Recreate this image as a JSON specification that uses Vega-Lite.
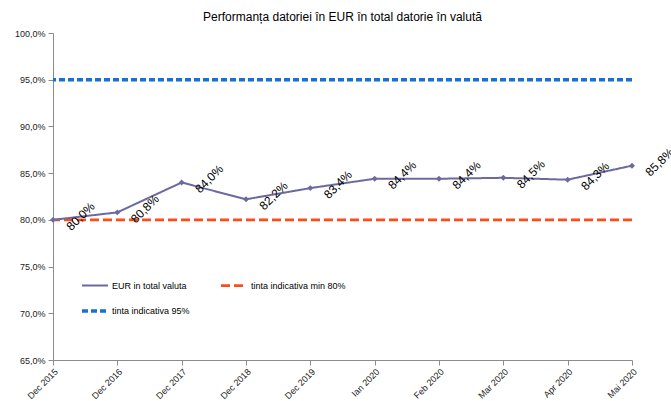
{
  "$schema": "https://vega.github.io/schema/vega-lite/v6.json",
  "width": 579,
  "height": 327,
  "autosize": {"type": "none"},
  "padding": {"left": 53, "top": 33, "right": 39, "bottom": 41},
  "background": "white",
  "title": {
    "text": "Performanța datoriei în EUR în total datorie în valută",
    "font": "Liberation Sans",
    "fontSize": 12,
    "fontWeight": "normal",
    "color": "#000000",
    "anchor": "middle",
    "offset": 5
  },
  "datasets": {
    "eur": [
      {"luna": "Dec 2015", "valoare": 0.800, "serie": "EUR in total valuta"},
      {"luna": "Dec 2016", "valoare": 0.808, "serie": "EUR in total valuta"},
      {"luna": "Dec 2017", "valoare": 0.840, "serie": "EUR in total valuta"},
      {"luna": "Dec 2018", "valoare": 0.822, "serie": "EUR in total valuta"},
      {"luna": "Dec 2019", "valoare": 0.834, "serie": "EUR in total valuta"},
      {"luna": "Ian 2020", "valoare": 0.844, "serie": "EUR in total valuta"},
      {"luna": "Feb 2020", "valoare": 0.844, "serie": "EUR in total valuta"},
      {"luna": "Mar 2020", "valoare": 0.845, "serie": "EUR in total valuta"},
      {"luna": "Apr 2020", "valoare": 0.843, "serie": "EUR in total valuta"},
      {"luna": "Mai 2020", "valoare": 0.858, "serie": "EUR in total valuta"}
    ],
    "tinte": [
      {"serie": "tinta indicativa min 80%", "valoare": 0.80},
      {"serie": "tinta indicativa  95%", "valoare": 0.95}
    ]
  },
  "layer": [
    {
      "data": {"name": "tinte"},
      "mark": {"type": "rule"},
      "encoding": {
        "y": {"field": "valoare", "type": "quantitative",
          "scale": {"domain": [0.65, 1.0], "zero": false, "nice": false},
          "axis": {"values": [0.65, 0.70, 0.75, 0.80, 0.85, 0.90, 0.95, 1.0], "format": ".1%", "labelPadding": 3}},
        "color": {"field": "serie", "type": "nominal",
          "sort": ["EUR in total valuta", "tinta indicativa min 80%", "tinta indicativa  95%"],
          "scale": {"domain": ["EUR in total valuta", "tinta indicativa min 80%", "tinta indicativa  95%"], "range": ["#6a6aa0", "#ff4a1a", "#1a6fd6"]},
          "legend": {"orient": "none", "direction": "horizontal", "legendX": 27, "legendY": 238, "columns": 2, "title": null, "symbolType": "stroke", "symbolSize": 676, "labelOffset": 2, "columnPadding": 22, "rowPadding": 5, "labelFontSize": 9, "labelFont": "Liberation Sans", "labelColor": "#000000", "symbolStrokeWidth": 2.5,
            "values": ["EUR in total valuta", "tinta indicativa min 80%", "tinta indicativa  95%"]}},
        "strokeDash": {"field": "serie", "type": "nominal",
          "sort": ["EUR in total valuta", "tinta indicativa min 80%", "tinta indicativa  95%"],
          "scale": {"domain": ["EUR in total valuta", "tinta indicativa min 80%", "tinta indicativa  95%"], "range": [[1, 0], [9, 4], [6, 3]]}},
        "strokeWidth": {"field": "serie", "type": "nominal",
          "sort": ["EUR in total valuta", "tinta indicativa min 80%", "tinta indicativa  95%"],
          "scale": {"domain": ["EUR in total valuta", "tinta indicativa min 80%", "tinta indicativa  95%"], "range": [2, 3.5, 2]}, "legend": null}
      }
    },
    {
      "data": {"name": "eur"},
      "mark": {"type": "line", "point": {"shape": "diamond", "filled": true, "size": 35, "color": "#6a6aa0"}},
      "encoding": {
        "x": {"field": "luna", "type": "ordinal", "sort": null,
          "scale": {"type": "point", "padding": 0},
          "axis": {"labelAngle": 315, "labelFontSize": 9, "labelPadding": 2}},
        "y": {"field": "valoare", "type": "quantitative"},
        "color": {"field": "serie", "type": "nominal", "sort": ["EUR in total valuta", "tinta indicativa min 80%", "tinta indicativa  95%"]},
        "strokeDash": {"field": "serie", "type": "nominal", "sort": ["EUR in total valuta", "tinta indicativa min 80%", "tinta indicativa  95%"]},
        "strokeWidth": {"field": "serie", "type": "nominal", "sort": ["EUR in total valuta", "tinta indicativa min 80%", "tinta indicativa  95%"], "legend": null}
      }
    },
    {
      "data": {"name": "eur"},
      "mark": {"type": "text", "angle": 315, "dx": 22, "dy": 17, "align": "center", "baseline": "middle", "font": "Liberation Sans", "fontSize": 12, "color": "#000000"},
      "encoding": {
        "x": {"field": "luna", "type": "ordinal", "sort": null},
        "y": {"field": "valoare", "type": "quantitative"},
        "text": {"field": "valoare", "type": "quantitative", "format": ".1%"}
      }
    }
  ],
  "config": {
    "locale": {"number": {"decimal": ",", "thousands": ".", "grouping": [3], "currency": ["", " €"]}},
    "view": {"stroke": null},
    "font": "Liberation Sans",
    "axis": {"labelFont": "Liberation Sans", "labelFontSize": 9, "labelColor": "#222222", "domainColor": "#8c8c8c", "tickColor": "#8c8c8c", "grid": false, "title": null, "tickSize": 5}
  }
}
